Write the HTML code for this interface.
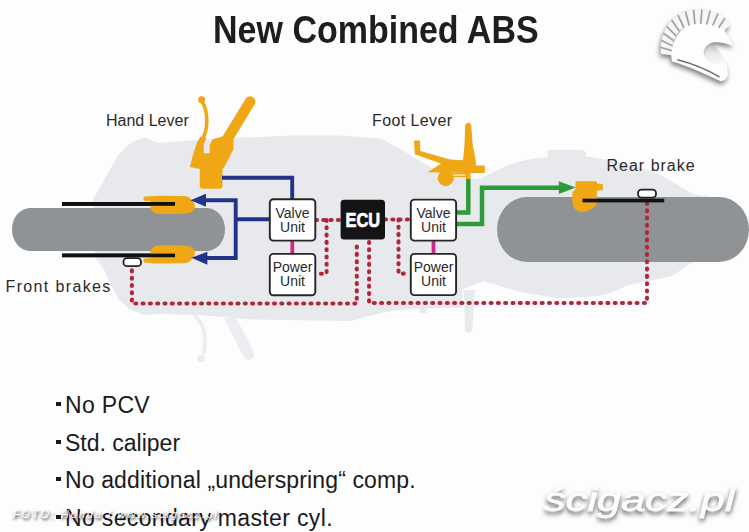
<!DOCTYPE html>
<html><head><meta charset="utf-8">
<style>
html,body{margin:0;padding:0;}
body{width:749px;height:532px;overflow:hidden;background:#fdfdfd;position:relative;font-family:"Liberation Sans",sans-serif;}
svg{position:absolute;left:0;top:0;}
.t{position:absolute;white-space:nowrap;color:#1e1e1e;line-height:1;}
.lb{font-size:16px;color:#2a2a2a;}
.bl{font-size:23px;color:#1a1a1a;left:65px;}
.bl:before{content:"";position:absolute;left:-8.6px;top:8px;width:4.4px;height:4.2px;background:#1a1a1a;}
</style></head><body>
<svg width="749" height="532" viewBox="0 0 749 532" font-family="Liberation Sans, sans-serif">
  
  <!-- helmet logo -->
  <defs>
    <filter id="sh" x="-30%" y="-30%" width="160%" height="160%">
      <feGaussianBlur stdDeviation="2.6"/>
    </filter>
    <linearGradient id="vis" x1="0" y1="0" x2="0" y2="1">
      <stop offset="0" stop-color="#b5b5b5"/><stop offset="0.5" stop-color="#e6e6e6"/><stop offset="1" stop-color="#f8f8f8"/>
    </linearGradient>
  </defs>
  <g transform="translate(-1,3)" filter="url(#sh)" fill="#6a6a6a" opacity="0.85">
    <path d="M730.4,24.5 L728.6,22.5 L726.8,20.6 L724.8,18.9 L722.7,17.2 L720.5,15.7 L718.2,14.4 L715.8,13.1 L713.3,12.0 L710.7,11.3 L708.0,10.7 L705.4,10.3 L702.7,10.1 L700.0,10.0 L697.3,10.0 L694.7,10.2 L692.0,10.6 L689.4,11.0 L686.8,11.7 L684.2,12.4 L681.8,13.5 L679.5,14.8 L677.2,16.2 L675.1,17.7 L673.0,19.3 L671.2,21.1 L669.5,23.1 L668.0,25.2 L666.7,27.3 L665.5,29.5 L664.4,31.7 L663.5,34.0 L662.6,36.3 L662.0,38.5 L661.4,40.8 L661.0,43.1 L660.8,45.3 L660.6,47.6 L660.6,49.8 L660.8,52.0 L661.0,54.1 L671.9,55.3 L672.0,53.8 L671.9,52.3 L671.9,50.7 L672.0,49.1 L672.1,47.5 L672.4,45.9 L672.7,44.3 L673.2,42.7 L673.7,41.1 L674.4,39.6 L675.1,38.0 L675.9,36.4 L676.8,34.8 L677.9,33.3 L679.0,31.8 L680.2,30.4 L681.6,29.2 L683.2,28.2 L684.8,27.3 L686.5,26.5 L688.3,25.8 L690.1,25.2 L691.9,24.7 L693.7,24.3 L695.6,24.1 L697.5,23.9 L699.4,23.9 L701.3,24.0 L703.2,24.2 L705.1,24.5 L707.1,24.6 L709.0,24.8 L711.0,25.2 L713.0,25.6 L714.9,26.2 L716.9,26.8 L718.7,27.8 L720.5,28.8 L722.2,30.0 L723.8,31.2 Z"/><path d="M671,54.5 C672,40 680,27 692,23.2 C705,21.5 718,25 724.4,30.4 L733.5,45.8 C725,42.5 715,41.5 710.8,43 C705,46 703,51 704,54.3 C705,59 710,63 716.9,64.1 C720,63.5 722,62 723,61.7 L726.7,64.1 L727.9,74 C727.5,78 725,81 720.6,81.2 C705,74 688,66 672,61.5 Z"/>
  </g>
  <g>
    <path fill="#f6f6f6" d="M730.4,24.5 L728.6,22.5 L726.8,20.6 L724.8,18.9 L722.7,17.2 L720.5,15.7 L718.2,14.4 L715.8,13.1 L713.3,12.0 L710.7,11.3 L708.0,10.7 L705.4,10.3 L702.7,10.1 L700.0,10.0 L697.3,10.0 L694.7,10.2 L692.0,10.6 L689.4,11.0 L686.8,11.7 L684.2,12.4 L681.8,13.5 L679.5,14.8 L677.2,16.2 L675.1,17.7 L673.0,19.3 L671.2,21.1 L669.5,23.1 L668.0,25.2 L666.7,27.3 L665.5,29.5 L664.4,31.7 L663.5,34.0 L662.6,36.3 L662.0,38.5 L661.4,40.8 L661.0,43.1 L660.8,45.3 L660.6,47.6 L660.6,49.8 L660.8,52.0 L661.0,54.1 L671.9,55.3 L672.0,53.8 L671.9,52.3 L671.9,50.7 L672.0,49.1 L672.1,47.5 L672.4,45.9 L672.7,44.3 L673.2,42.7 L673.7,41.1 L674.4,39.6 L675.1,38.0 L675.9,36.4 L676.8,34.8 L677.9,33.3 L679.0,31.8 L680.2,30.4 L681.6,29.2 L683.2,28.2 L684.8,27.3 L686.5,26.5 L688.3,25.8 L690.1,25.2 L691.9,24.7 L693.7,24.3 L695.6,24.1 L697.5,23.9 L699.4,23.9 L701.3,24.0 L703.2,24.2 L705.1,24.5 L707.1,24.6 L709.0,24.8 L711.0,25.2 L713.0,25.6 L714.9,26.2 L716.9,26.8 L718.7,27.8 L720.5,28.8 L722.2,30.0 L723.8,31.2 Z"/><path fill="#fdfdfd" d="M671,54.5 C672,40 680,27 692,23.2 C705,21.5 718,25 724.4,30.4 L733.5,45.8 C725,42.5 715,41.5 710.8,43 C705,46 703,51 704,54.3 C705,59 710,63 716.9,64.1 C720,63.5 722,62 723,61.7 L726.7,64.1 L727.9,74 C727.5,78 725,81 720.6,81.2 C705,74 688,66 672,61.5 Z"/>
  </g>
  <path d="M718.6,27.7 L724.9,18.3 M712.7,25.5 L718.0,13.7 M706.6,24.6 L710.2,10.6 M700.7,24.0 L701.9,9.6 M694.9,24.2 L693.6,9.8 M689.2,25.5 L685.5,11.5 M684.0,27.8 L678.0,15.1 M679.5,31.3 L671.6,19.9 M676.2,35.9 L666.7,26.3 M673.9,40.8 L663.3,33.2 M672.4,45.7 L661.0,40.2 M671.9,50.6 L660.2,47.3" stroke="#a0a0a0" stroke-width="1.7" fill="none"/>
  <path d="M704.5,50 C705,58 710,63 716.9,64.1 C720,63.5 722,62 723,61.7 L726,63 C722,55 718,47 710.8,44 C706,46 704.5,48 704.5,50 Z" fill="url(#vis)" opacity="0.8"/>
  <path d="M677.5,59.8 C690,63 708,70 719.6,77.2" stroke="#6e6e6e" stroke-width="1.4" fill="none"/>

  <!-- silhouette -->
  <path fill="#e8e9ed" d="M92.7,200 L118,155.5 L129,144.3 Q137,139 146,137.8 L157.2,143 L200,139.6 L290,135.5 L340,135.5 L381,138.5 L403,150.6 L430,167 L450,176 L480,179 C495,170 515,160 544,157.5 L547.3,157.5 L547.3,151 Q547.5,150 549,150 L583,150 L586,152.5 L586,156.5 C605,159 625,163 640,167.4 L659,174 L676,184 L694,194.3 L717,197.5 L710,250 L694,261 L672,276 Q650,281 627,285.5 Q608,296 589.5,296.7 Q570,298 556,298 L520,292 L483,281 L462.4,289.5 L462,307.5 L414,309 L393.5,310.5 L375.7,314.3 L350,321 L250,319.5 L200,315 L160,314 L143,314.7 L128,308.6 L119,299.6 L112.3,287.6 L104,269.5 L95,257.5 Z"/>
  <path d="M195,316 C203,323 207,334 204,352" fill="none" stroke="#ecedf0" stroke-width="4" stroke-linecap="round"/>
  <circle cx="201" cy="358.5" r="3.8" fill="#ecedf0"/>
  <path d="M224,318 L236,318 L254,352 Q255,360 248,360 Q245,359 243,356 Z" fill="#ecedf0"/>
  <path d="M420,308 H426.4 V313 H420 Z" fill="#e8e9ed"/>
  <path d="M463,290 H476 L474.5,294 L472.5,330 Q468.5,336 465,330 L464,294 Z" fill="#e9eaee"/>
  <!-- front tire -->
  <rect x="12" y="208" width="213" height="43" rx="18" ry="21.5" fill="#8f9395"/>
  <!-- rear tire -->
  <rect x="497" y="197" width="252" height="65" rx="30" ry="32.5" fill="#8f9395"/>

  <!-- red dotted wiring -->
  <g fill="none" stroke="#b3263a" stroke-width="4.1" stroke-linecap="round" stroke-dasharray="1.0 6.3">
    <path d="M131.9,268 V303.5 H356.8 V242" stroke-dashoffset="-2.4"/>
    <path d="M369.1,242 V303 H647 V198"/>
    <path d="M316,220 H341"/>
    <path d="M326.6,220 V273.7 H316"/>
    <path d="M385,219.5 H410"/>
    <path d="M398.5,219.5 V273.6 H410"/>
  </g>

  <!-- front black lines -->
  <rect x="62" y="202" width="113" height="3.8" fill="#111"/>
  <rect x="62" y="253.6" width="113" height="3.6" fill="#111"/>

  <!-- front calipers -->
  <path fill="#f0a716" d="M144.5,196.6 L150.5,196.3 Q153,195.8 160,195.8 L184,195.9 Q188,196 190,198 Q195,203 195,206 Q195,211 189,213 Q182,214.3 160,214 Q152,213.5 150.5,208 L150.3,201 L144.5,200.8 Q143.4,200.5 143.4,199 Q143.4,196.8 144.5,196.6 Z"/>
  <path fill="#f0a716" d="M144.5,262.6 L150.5,262.9 Q153,263.4 160,263.4 L184,263.3 Q188,263.2 190,261.2 Q195,256.2 195,253.2 Q195,248.2 189,246.2 Q182,244.9 160,245.2 Q152,245.7 150.5,251.2 L150.3,258.2 L144.5,258.4 Q143.4,258.7 143.4,260.2 Q143.4,262.4 144.5,262.6 Z"/>
  <!-- black lines over calipers -->
  <rect x="62" y="202" width="113" height="3.8" fill="#111"/>
  <rect x="62" y="253.6" width="113" height="3.6" fill="#111"/>
  <!-- front sensor -->
  <rect x="123.5" y="258.2" width="17.5" height="8" rx="3.5" fill="#fff" stroke="#222" stroke-width="1.8"/>

  <!-- rear caliper + line + sensor -->
  <path fill="#f0a716" d="M575.5,181.3 L596.5,181.3 L597,183.5 L602.8,184 L602.8,190.2 L597,190.5 L596.5,204.5 Q593,210 582,212.2 Q576,212 573,206 Q571.5,198 572.5,192 L575.5,189 Z"/>
  <rect x="582.5" y="198.7" width="81.7" height="3.7" fill="#111"/>
  <rect x="638" y="189.6" width="18" height="8" rx="3.5" fill="#fff" stroke="#222" stroke-width="1.8"/>

  <!-- hand lever -->
  <g fill="#f0a716">
    <circle cx="201.6" cy="99.8" r="3.5"/>
    <path d="M201.2,100.5 C205.5,106 207,114 206.8,122 C206.8,130 205,135 202,140" fill="none" stroke="#f0a716" stroke-width="3.6"/>
    <path d="M189.9,167 L192.9,155.1 L196.8,143.3 L200.5,136.5 L206.5,137.8 L203.7,144.3 L203.7,153.2 L209.7,153.2 L209.7,145.3 L212.6,139.3 L222.5,136.4 L245.2,99.5 A5.2,5.2 0 0 1 255,103.8 L233.4,139.3 L233.4,149.2 L225.5,165 L222.5,168.9 L222.5,186 Q222.5,188.8 219.5,188.8 L203,188.8 Q199.8,188.8 199.8,186 L199.8,168.9 Z"/>
  </g>

  <!-- foot lever -->
  <g fill="#f0a716">
    <path d="M465.2,125 Q468.2,120.5 471.2,125 L472.7,145 L475.7,160.5 L476,165.4 H484.8 V172.9 H470.5 V180 H466 V172.9 L427.6,172.2 L441,163.4 L414.8,154.3 L414,140.6 L420,140.6 L420.3,151 L450.2,159.4 L463,160.2 L464.5,145 Z"/>
    <circle cx="445.7" cy="178.2" r="8"/>
    <rect x="450" y="172.9" width="17" height="4.2"/>
    <rect x="453" y="174.4" width="12.5" height="1.4" fill="#f7e6c4"/>
  </g>

  <!-- blue hydraulic lines -->
  <g fill="none" stroke="#22348a" stroke-width="3.9">
    <path d="M222,177.8 H292.2 V199"/>
    <path d="M269,219.3 H235.7"/>
    <path d="M206,200.2 H235.7 V258 H207"/>
  </g>
  <path fill="#22348a" d="M190.5,200.3 L206,193.8 L206,206.8 Z"/>
  <path fill="#22348a" d="M191.4,257.8 L207.4,251.8 L207.4,264.8 Z"/>

  <!-- green lines -->
  <g fill="none" stroke="#2e9c3a" stroke-width="4.5">
    <path d="M468.3,179 V212.5 H457"/>
    <path d="M457,223.9 H482 V187.8 H560"/>
  </g>
  <path fill="#2e9c3a" d="M575.7,187.5 L558.8,181.3 L558.8,194 Z"/>

  <!-- magenta connectors -->
  <rect x="290.4" y="240" width="3.8" height="14" fill="#cc2a88"/>
  <rect x="431.6" y="240" width="3.8" height="14" fill="#cc2a88"/>

  <!-- boxes -->
  <g fill="#fff" stroke="#262626" stroke-width="1.9">
    <rect x="269.8" y="199.2" width="45.5" height="41.4" rx="3.5"/>
    <rect x="269.8" y="253.9" width="45.5" height="41.4" rx="3.5"/>
    <rect x="410.8" y="199.6" width="45.3" height="41" rx="3.5"/>
    <rect x="410.8" y="253.9" width="45.3" height="41.2" rx="3.5"/>
  </g>
  <rect x="340.6" y="199.8" width="44.4" height="39.8" rx="3.5" fill="#141414"/>
  <g font-size="14" fill="#2a2a2a" text-anchor="middle">
    <text x="292.5" y="217.5">Valve</text>
    <text x="292.5" y="231.8">Unit</text>
    <text x="292.5" y="271.8">Power</text>
    <text x="292.5" y="285.8">Unit</text>
    <text x="433.5" y="217.5">Valve</text>
    <text x="433.5" y="231.8">Unit</text>
    <text x="433.5" y="271.8">Power</text>
    <text x="433.5" y="285.8">Unit</text>
  </g>
  <text x="0" y="0" font-size="20" font-weight="bold" fill="#fff" stroke="#fff" stroke-width="0.7" transform="translate(362.9,227.3) scale(0.82,1.04)" text-anchor="middle">ECU</text>
</svg>
<div class="t" style="left:213px;top:10.5px;font-size:38px;font-weight:bold;transform:scaleX(0.895);transform-origin:0 0;">New Combined ABS</div>
<div class="t lb" style="left:106px;top:113.3px;">Hand Lever</div>
<div class="t lb" style="left:372px;top:113.3px;letter-spacing:0.4px;">Foot Lever</div>
<div class="t lb" style="left:606.5px;top:158.3px;letter-spacing:1px;">Rear brake</div>
<div class="t lb" style="left:5.5px;top:278.5px;letter-spacing:1.36px;">Front brakes</div>
<div class="t bl" style="top:393.8px;letter-spacing:0.32px;">No PCV</div>
<div class="t bl" style="top:431.5px;">Std. caliper</div>
<div class="t bl" style="top:469px;letter-spacing:0.13px;">No additional „underspring“ comp.</div>
<div class="t bl" style="top:506.5px;letter-spacing:0.35px;">No secondary master cyl.</div>

<div class="t" style="left:543.5px;top:483px;font-size:33px;font-style:italic;color:#fcfcfc;-webkit-text-stroke:0.8px #fcfcfc;transform:scaleX(1.315);transform-origin:0 0;text-shadow:0px 3px 5px rgba(0,0,0,0.8);">ścigacz.pl</div>
<div class="t" style="left:13px;top:509px;font-size:11px;font-style:italic;color:#fff;letter-spacing:1.9px;text-shadow:1px 2px 3px rgba(0,0,0,0.9);">FOTO: Honda / www.scigacz.pl</div>
</body></html>
